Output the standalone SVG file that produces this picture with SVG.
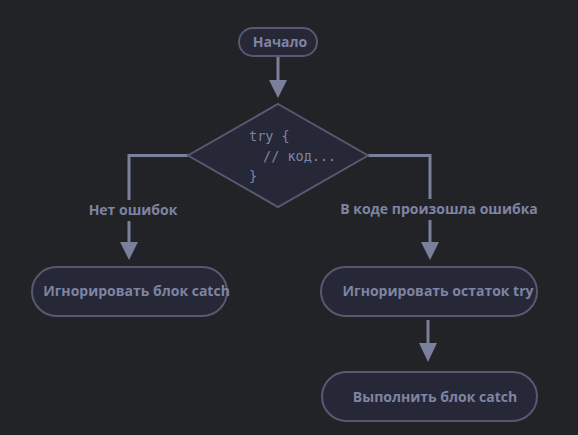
<svg xmlns="http://www.w3.org/2000/svg" width="578" height="435" viewBox="0 0 578 435">
<style>
.node{fill:#262837;stroke:#565a70;stroke-width:2}
.lbl{font-family:"Open Sans","Noto Sans","Liberation Sans",sans-serif;font-weight:bold;font-size:14px;fill:#7e84a3}
.code{font-family:"DejaVu Sans Mono","Liberation Mono",monospace;font-size:13.5px;fill:#7e84a3}
.edge{fill:none;stroke:#7a7f9b;stroke-width:3}
.elbl{fill:#222327}
</style>
<rect width="578" height="435" fill="#222327"/>
<g id="connectors">
<path class="edge" d="M278,56 V80"/>
<path d="M269,80 H287 L278,98 Z" fill="#7a7f9b"/>
<path class="edge" d="M188,155.5 H129 V242"/>
<path d="M120,242 H138 L129,260 Z" fill="#7a7f9b"/>
<path class="edge" d="M368,155.5 H430 V242"/>
<path d="M421,242 H439 L430,260 Z" fill="#7a7f9b"/>
<path class="edge" d="M428,320 V343"/>
<path d="M419,343 H437 L428,362 Z" fill="#7a7f9b"/>
<rect class="elbl" x="84" y="200" width="100" height="21"/>
<text class="lbl" x="133" y="215" text-anchor="middle">Нет ошибок</text>
<rect class="elbl" x="336" y="199" width="206" height="21"/>
<text class="lbl" x="439" y="214" text-anchor="middle">В коде произошла ошибка</text>
</g>
<g id="start">
<rect class="node" x="239" y="28" width="78" height="28" rx="14"/>
<text class="lbl" x="280" y="47" text-anchor="middle">Начало</text>
</g>
<g id="try">
<polygon class="node" points="278,104 368,155.5 278,207 188,155.5"/>
<text class="code" x="249" y="141">try {</text>
<text class="code" x="263" y="161">// код...</text>
<text class="code" x="249" y="181">}</text>
</g>
<g id="ignore-catch">
<rect class="node" x="32" y="267" width="195" height="49" rx="24.5"/>
<text class="lbl" x="136.5" y="296" text-anchor="middle">Игнорировать блок catch</text>
</g>
<g id="ignore-try">
<rect class="node" x="321" y="267" width="216" height="49" rx="24.5"/>
<text class="lbl" x="438" y="296" text-anchor="middle">Игнорировать остаток try</text>
</g>
<g id="run-catch">
<rect class="node" x="322" y="372" width="215" height="49" rx="24.5"/>
<text class="lbl" x="435" y="402" text-anchor="middle">Выполнить блок catch</text>
</g>
</svg>
